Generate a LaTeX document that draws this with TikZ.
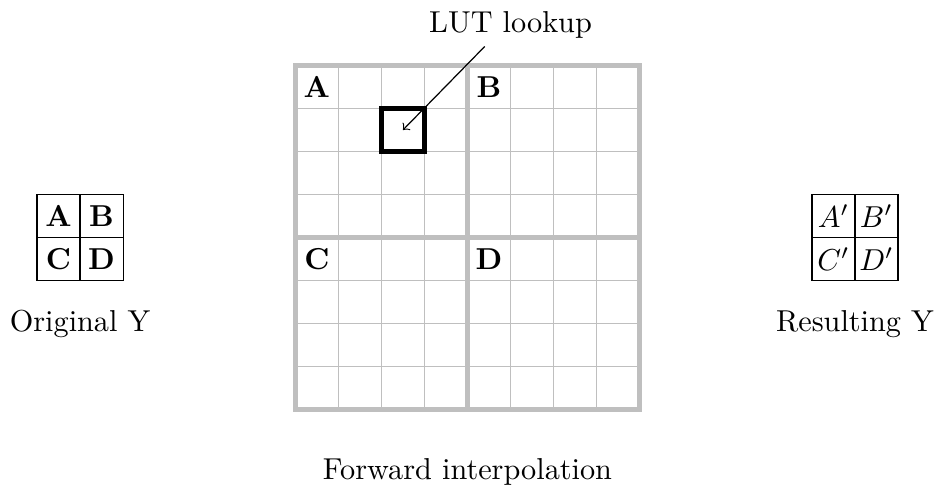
\documentclass[tikz,border=0pt]{standalone}
\begin{document}
\begin{tikzpicture}[
  cell/.style={draw=black, line width=0.4pt, minimum size=0.5cm, inner sep=0pt, anchor=center},
  thingrid/.style={draw=black!25, line width=0.4pt},
  thickgrid/.style={draw=black!25, line width=1.6pt},
  lutbox/.style={draw=black, line width=1.6pt, minimum size=0.5cm, inner sep=0pt},
  lbl/.style={inner sep=1pt, font=\bfseries},
  caption/.style={inner sep=1pt}
]
\useasboundingbox (-3.43,-0.976) rectangle (7.43,4.76);

% small tables
\node[cell] (oa) at (-2.75,2.25) {\textbf{A}};
\node[cell] (ob) at (-2.25,2.25) {\textbf{B}};
\node[cell] (oc) at (-2.75,1.75) {\textbf{C}};
\node[cell] (od) at (-2.25,1.75) {\textbf{D}};
\node[caption] (orig) at (-2.5,1.0) {Original Y};

\node[cell] (ra) at (6.25,2.25) {$A'$};
\node[cell] (rb) at (6.75,2.25) {$B'$};
\node[cell] (rc) at (6.25,1.75) {$C'$};
\node[cell] (rd) at (6.75,1.75) {$D'$};
\node[caption] (res) at (6.5,1.0) {Resulting Y};

% big grid
\draw[thingrid] (0,0) grid[step=0.5] (4,4);
\draw[thickgrid] (0,0) rectangle (4,4);
\draw[thickgrid] (2,0) -- (2,4);
\draw[thickgrid] (0,2) -- (4,2);

\node[lbl] (ga) at (0.25,3.75) {A};
\node[lbl] (gb) at (2.25,3.75) {B};
\node[lbl] (gc) at (0.25,1.75) {C};
\node[lbl] (gd) at (2.25,1.75) {D};

\node[lutbox] (lut) at (1.25,3.25) {};
\node[caption] (lutlabel) at (2.5,4.47) {LUT lookup};
\coordinate (lutstart) at (2.2,4.22);
\draw[->, line width=0.4pt] (lutstart) -- (lut.center);

\node[caption] (fwd) at (2,-0.72) {Forward interpolation};
\end{tikzpicture}
\end{document}
